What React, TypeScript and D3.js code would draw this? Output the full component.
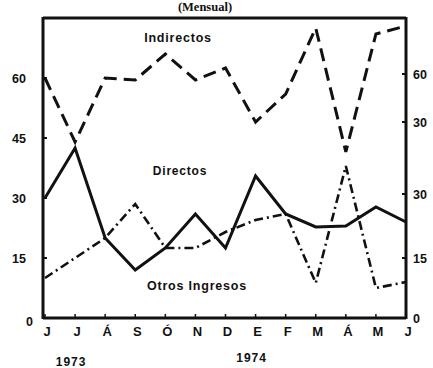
import React from "react";
import * as d3 from "d3";

// Months from June 1973 to June 1974
const months = ["J", "J", "Á", "S", "Ó", "N", "D", "E", "F", "M", "Á", "M", "J"];
const monthIds = months.map((_, i) => `m${i}`);

// Monthly revenue series
const indirectos = [60, 44, 60, 59.5, 66, 59.5, 62.5, 49, 56, 72.5, 41.5, 71, 73];
const directos = [30, 42.5, 20, 12, 17.5, 26, 17.5, 35.5, 26, 22.75, 23, 27.75, 24];
const otrosIngresos = [10, 15, 20, 28.5, 17.5, 17.5, 21.5, 24.5, 26, 8.75, 38, 7.5, 9];

// Axis ticks
const leftTicks = [0, 15, 30, 45, 60];
const rightTicks = [0, 15, 31, 49, 61];
const rightTickLabels = ["0", "15", "30", "30", "60"];
const years = [
  { label: "1973", month: 1 },
  { label: "1974", month: 7 },
];

const W = 433;
const H = 368;
const left = 43;
const right = 406;
const top = 18;
const bottom = 318;

export default function App() {
  const x = d3.scalePoint<string>().domain(monthIds).range([45, right]);
  const y = d3.scaleLinear().domain([0, 75]).range([bottom, top]);

  const line = d3
    .line<number>()
    .x((_, i) => x(monthIds[i]) as number)
    .y((d) => y(d));

  const font = "'Liberation Sans', Arial, sans-serif";

  return (
    <svg
      width={W}
      height={H}
      style={{ position: "absolute", left: 0, top: 0, background: "#fff" }}
      fontFamily={font}
      fontWeight="bold"
    >
      <rect x={0} y={0} width={W} height={H} fill="#fff" />

      {/* title */}
      <text x={205} y={11} textAnchor="middle" fontSize={12.5} fontFamily="'Liberation Serif', serif" fill="#111">
        (Mensual)
      </text>

      {/* frame */}
      <line x1={left} x2={right} y1={top} y2={top} stroke="#111" strokeWidth={3} />
      <line x1={left} x2={left} y1={top - 1} y2={bottom + 1} stroke="#111" strokeWidth={3} />
      <line x1={right} x2={right} y1={top - 1} y2={bottom + 1} stroke="#111" strokeWidth={3} />
      <line x1={left} x2={right} y1={bottom} y2={bottom} stroke="#111" strokeWidth={3} />

      {/* left axis */}
      {leftTicks.map((t) => (
        <g key={`l${t}`}>
          <line x1={left} x2={left + 4} y1={y(t)} y2={y(t)} stroke="#111" strokeWidth={2} />
          <text x={t === 0 ? 33 : 26} y={y(t) + (t === 0 ? 8 : 5)} textAnchor="end" fontSize={12.5} fill="#111">
            {t}
          </text>
        </g>
      ))}

      {/* right axis */}
      {rightTicks.map((t, i) => (
        <g key={`r${i}`}>
          <line x1={right - 4} x2={right} y1={y(t)} y2={y(t)} stroke="#111" strokeWidth={2} />
          <text x={413} y={y(t) + 5} fontSize={12.5} fill="#111">
            {rightTickLabels[i]}
          </text>
        </g>
      ))}

      {/* month ticks and labels */}
      {monthIds.map((id, i) => (
        <g key={id}>
          <line x1={x(id)} x2={x(id)} y1={bottom} y2={bottom - 4} stroke="#111" strokeWidth={1.5} />
          <text x={(x(id) as number) + 2} y={336} textAnchor="middle" fontSize={13} fill="#111">
            {months[i]}
          </text>
        </g>
      ))}
      {years.map((yr, i) => (
        <text
          key={yr.label}
          x={(x(monthIds[yr.month]) as number) - 4}
          y={i === 0 ? 366 : 362}
          textAnchor="middle"
          fontSize={12}
          letterSpacing={1}
          fill="#111"
        >
          {yr.label}
        </text>
      ))}

      {/* series */}
      <path
        d={line(indirectos) ?? ""}
        fill="none"
        stroke="#111"
        strokeWidth={3}
        strokeDasharray="13 7"
        strokeLinejoin="miter"
      />
      <path d={line(directos) ?? ""} fill="none" stroke="#111" strokeWidth={3} strokeLinejoin="miter" />
      <path
        d={line(otrosIngresos) ?? ""}
        fill="none"
        stroke="#111"
        strokeWidth={2.6}
        strokeDasharray="9 4 2 4"
      />

      {/* series labels */}
      <text x={178} y={42} textAnchor="middle" fontSize={12.5} letterSpacing={0.8} fill="#111">
        Indirectos
      </text>
      <text x={180} y={175} textAnchor="middle" fontSize={12} letterSpacing={0.8} fill="#111">
        Directos
      </text>
      <text x={197} y={290} textAnchor="middle" fontSize={12.5} letterSpacing={0.8} fill="#111">
        Otros Ingresos
      </text>
    </svg>
  );
}
